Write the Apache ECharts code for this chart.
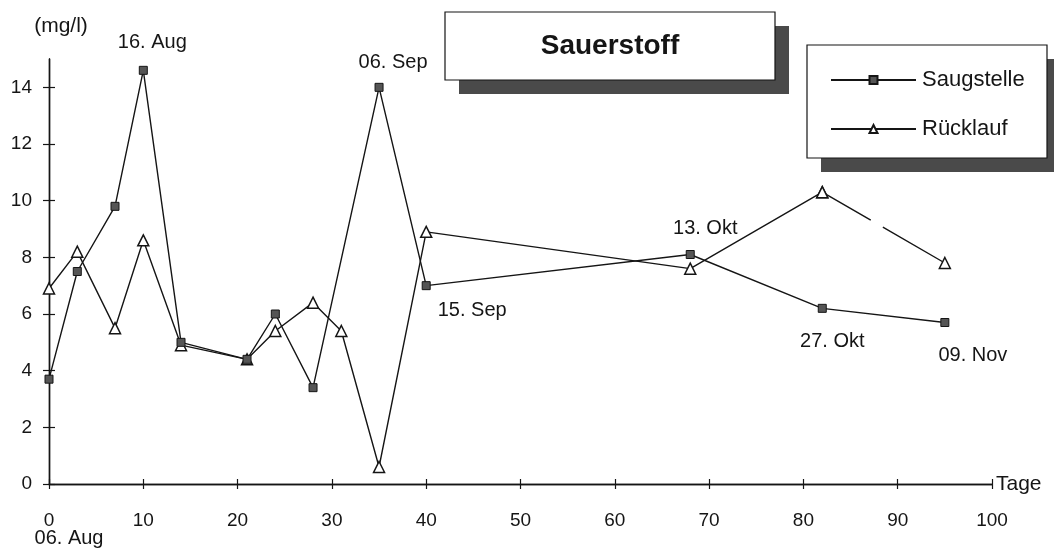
<!DOCTYPE html>
<html>
<head>
<meta charset="utf-8">
<script src="https://cdn.jsdelivr.net/npm/echarts@6/dist/echarts.min.js"></script>
<style>
html,body{margin:0;padding:0;background:#fff;}
#chart{width:1054px;height:549px;}
</style>
</head>
<body>
<div id="chart"></div>
<script>
// ---- data ----
const daysSaug   = [0, 3, 7, 10, 14, 21, 24, 28, 35, 40, 68, 82, 95];
const saugstelle = [3.7, 7.5, 9.8, 14.6, 5.0, 4.4, 6.0, 3.4, 14.0, 7.0, 8.1, 6.2, 5.7];
const daysRueck  = [0, 3, 7, 10, 14, 21, 24, 28, 31, 35, 40, 68, 82, 95];
const ruecklauf  = [6.9, 8.2, 5.5, 8.6, 4.9, 4.4, 5.4, 6.4, 5.4, 0.6, 8.9, 7.6, 10.3, 7.8];
const xTicks = [0, 10, 20, 30, 40, 50, 60, 70, 80, 90, 100];
const yTicks = [0, 2, 4, 6, 8, 10, 12, 14];
const labelDays  = [10, 35, 40, 68, 82, 95];
const labelTexts = ['16. Aug', '06. Sep', '15. Sep', '13. Okt', '27. Okt', '09. Nov'];
const startDate = '06. Aug';
const seriesNames = ['Saugstelle', 'Rücklauf'];
const titleText = 'Sauerstoff';
const yUnit = '(mg/l)';
const xUnit = 'Tage';

// ---- presentation ----
const FONT = 'Liberation Sans';
const INK = '#151515';
const labelOffsets = {10:[9,-28], 35:[14,-25], 40:[46,25], 68:[15,-26], 82:[10,33], 95:[28,33]};

const saugData = daysSaug.map((d, i) => {
  const k = labelDays.indexOf(d);
  const item = { value: [d, saugstelle[i]] };
  if (k >= 0) {
    item.label = {
      show: true, formatter: labelTexts[k], position: 'inside',
      offset: labelOffsets[d], color: INK, fontSize: 20, fontFamily: FONT,
      align: 'center', verticalAlign: 'middle'
    };
  }
  return item;
});
const n = daysRueck.length;
const rueckSolid = daysRueck.slice(0, n - 1).map((d, i) => [d, ruecklauf[i]]);
const rueckDashed = daysRueck.slice(n - 2).map((d, i) => [d, ruecklauf[n - 2 + i]]);

const triStyle = { color: '#fff', borderColor: INK, borderWidth: 1.5 };
const tickLine = { color: INK, width: 1.2 };

const chart = echarts.init(document.getElementById('chart'), null, { renderer: 'canvas' });
chart.setOption({
  animation: false,
  backgroundColor: '#fff',
  grid: { left: 49, right: 62, top: 59, bottom: 65 },
  xAxis: [{
    type: 'value', min: 0, max: 100, interval: 10, position: 'bottom',
    name: xUnit, nameLocation: 'end', nameGap: 4,
    nameTextStyle: { color: INK, fontSize: 21, fontFamily: FONT, verticalAlign: 'middle', align: 'left' },
    axisLine: { show: true, onZero: false, lineStyle: { color: INK, width: 1.4 } },
    axisTick: { show: true, length: 5, lineStyle: tickLine },
    axisLabel: { margin: 27, color: INK, fontSize: 19, fontFamily: FONT, customValues: xTicks },
    splitLine: { show: false }
  }, {
    type: 'value', min: 0, max: 100, interval: 10, position: 'bottom', offset: 0,
    axisLine: { show: true, onZero: false, lineStyle: { color: INK, width: 1.4 } },
    axisTick: { show: true, inside: true, length: 5, lineStyle: tickLine, customValues: xTicks },
    axisLabel: { show: false }, splitLine: { show: false }
  }],
  yAxis: [{
    type: 'value', min: 0, max: 15, interval: 2, position: 'left',
    axisLine: { show: true, onZero: false, lineStyle: { color: INK, width: 1.4 } },
    axisTick: { show: true, length: 6, lineStyle: tickLine, customValues: yTicks },
    axisLabel: { margin: 17, color: INK, fontSize: 19, fontFamily: FONT, customValues: yTicks },
    splitLine: { show: false }
  }, {
    type: 'value', min: 0, max: 15, interval: 2, position: 'left', offset: 0,
    axisLine: { show: true, onZero: false, lineStyle: { color: INK, width: 1.4 } },
    axisTick: { show: true, inside: true, length: 6, lineStyle: tickLine, customValues: yTicks },
    axisLabel: { show: false }, splitLine: { show: false }
  }],
  legend: {
    data: seriesNames, orient: 'vertical', left: 825, top: 64,
    itemWidth: 85, itemHeight: 10, itemGap: 27,
    textStyle: { color: INK, fontSize: 22, fontFamily: FONT, padding: [0, 0, 0, 1] },
    selectedMode: false, z: 10
  },
  graphic: [
    { type: 'rect', z: 1, shape: { x: 459, y: 26, width: 330, height: 68 }, style: { fill: '#4a4a4a' } },
    { type: 'rect', z: 2, shape: { x: 445, y: 12, width: 330, height: 68 }, style: { fill: '#fff', stroke: INK, lineWidth: 1.2 } },
    { type: 'text', z: 3, x: 610, y: 46, style: { text: titleText, fill: INK, font: 'bold 28px "' + FONT + '"', align: 'center', verticalAlign: 'middle' } },
    { type: 'rect', z: 1, shape: { x: 821, y: 59, width: 240, height: 113 }, style: { fill: '#4a4a4a' } },
    { type: 'rect', z: 2, shape: { x: 807, y: 45, width: 240, height: 113 }, style: { fill: '#fff', stroke: INK, lineWidth: 1.2 } },
    { type: 'text', z: 3, x: 61, y: 26, style: { text: yUnit, fill: INK, font: '21px "' + FONT + '"', align: 'center', verticalAlign: 'middle' } },
    { type: 'text', z: 3, x: 69, y: 538, style: { text: startDate, fill: INK, font: '20px "' + FONT + '"', align: 'center', verticalAlign: 'middle' } }
  ],
  series: [{
    name: seriesNames[0], type: 'line', data: saugData,
    symbol: 'rect', symbolSize: 8, z: 4,
    lineStyle: { color: INK, width: 1.4 },
    itemStyle: { color: '#555', borderColor: INK, borderWidth: 1 },
    emphasis: { disabled: true }
  }, {
    name: seriesNames[1], type: 'line', data: rueckSolid,
    symbol: 'triangle', symbolSize: 11, z: 3,
    lineStyle: { color: INK, width: 1.4 },
    itemStyle: triStyle,
    emphasis: { disabled: true }
  }, {
    name: seriesNames[1] + ' (Lücke)', type: 'line', data: rueckDashed,
    symbol: 'triangle', symbolSize: 11, z: 3,
    lineStyle: { color: INK, width: 1.4, type: [48, 14, 200, 0], dashOffset: -8 },
    itemStyle: triStyle,
    emphasis: { disabled: true }
  }, {
    name: 'axis-ticks', type: 'line', xAxisIndex: 1, yAxisIndex: 1,
    data: [[xTicks[0], yTicks[0]]],
    silent: true, showSymbol: false, symbol: 'none',
    lineStyle: { opacity: 0 }
  }]
});
</script>
</body>
</html>
